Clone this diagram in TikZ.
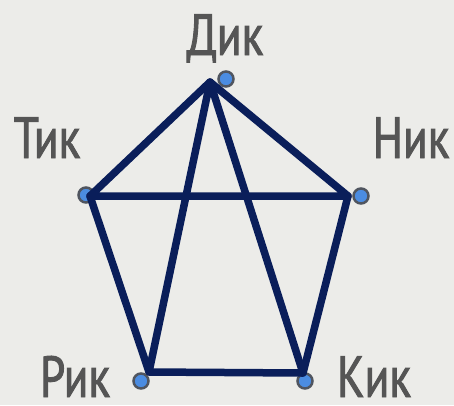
\documentclass[tikz,border=0pt]{standalone}
\usepackage{fontspec}
\newfontfamily\labelfont[FakeStretch=0.78, FakeBold=1.6]{PT Sans}
\usetikzlibrary{positioning}
\definecolor{PaperGray}{RGB}{236,236,233}
\definecolor{EdgeNavy}{RGB}{10,30,90}
\definecolor{DotBlue}{RGB}{75,140,225}
\definecolor{DotRim}{RGB}{80,85,95}
\definecolor{NameGray}{RGB}{85,85,85}

\begin{document}
\begin{tikzpicture}[x=1pt, y=-1pt, font=\labelfont\fontsize{58}{60}\selectfont]
\tikzset{
  vdot/.style={circle, draw=DotRim, line width=2.5pt, fill=DotBlue, minimum size=15pt, inner sep=0pt},
  vname/.style={text=NameGray, anchor=base, inner sep=0pt},
  link/.style={EdgeNavy, line width=7.5pt, line cap=round, line join=round}
}
  \fill[PaperGray] (0,0) rectangle (454,405);
  \useasboundingbox (0,0) rectangle (454,405);
  % dots and names
  \node[vdot] (dikdot) at (226,79) {};
  \node[vdot] (tikdot) at (86,195) {};
  \node[vdot] (nikdot) at (361,196) {};
  \node[vdot] (rikdot) at (141,381) {};
  \node[vdot] (kikdot) at (305,381) {};
  \node[vname] (dik) at (225,55) {Дик};
  \node[vname] (tik) at (47,158) {Тик};
  \node[vname] (nik) at (411,158) {Ник};
  \node[vname] (rik) at (75,397) {Рик};
  \node[vname] (kik) at (374,397) {Кик};
  % corners of the drawn lines
  \coordinate (d) at (210,82);
  \coordinate (t) at (90,196);
  \coordinate (n) at (348,196);
  \coordinate (r) at (149,372);
  \coordinate (k) at (303,373);
  \draw[link] (d) -- (t) -- (n) -- cycle;
  \draw[link] (d) -- (r) -- (k) -- cycle;
  \draw[link] (t) -- (r);
  \draw[link] (n) -- (k);
\end{tikzpicture}
\end{document}
